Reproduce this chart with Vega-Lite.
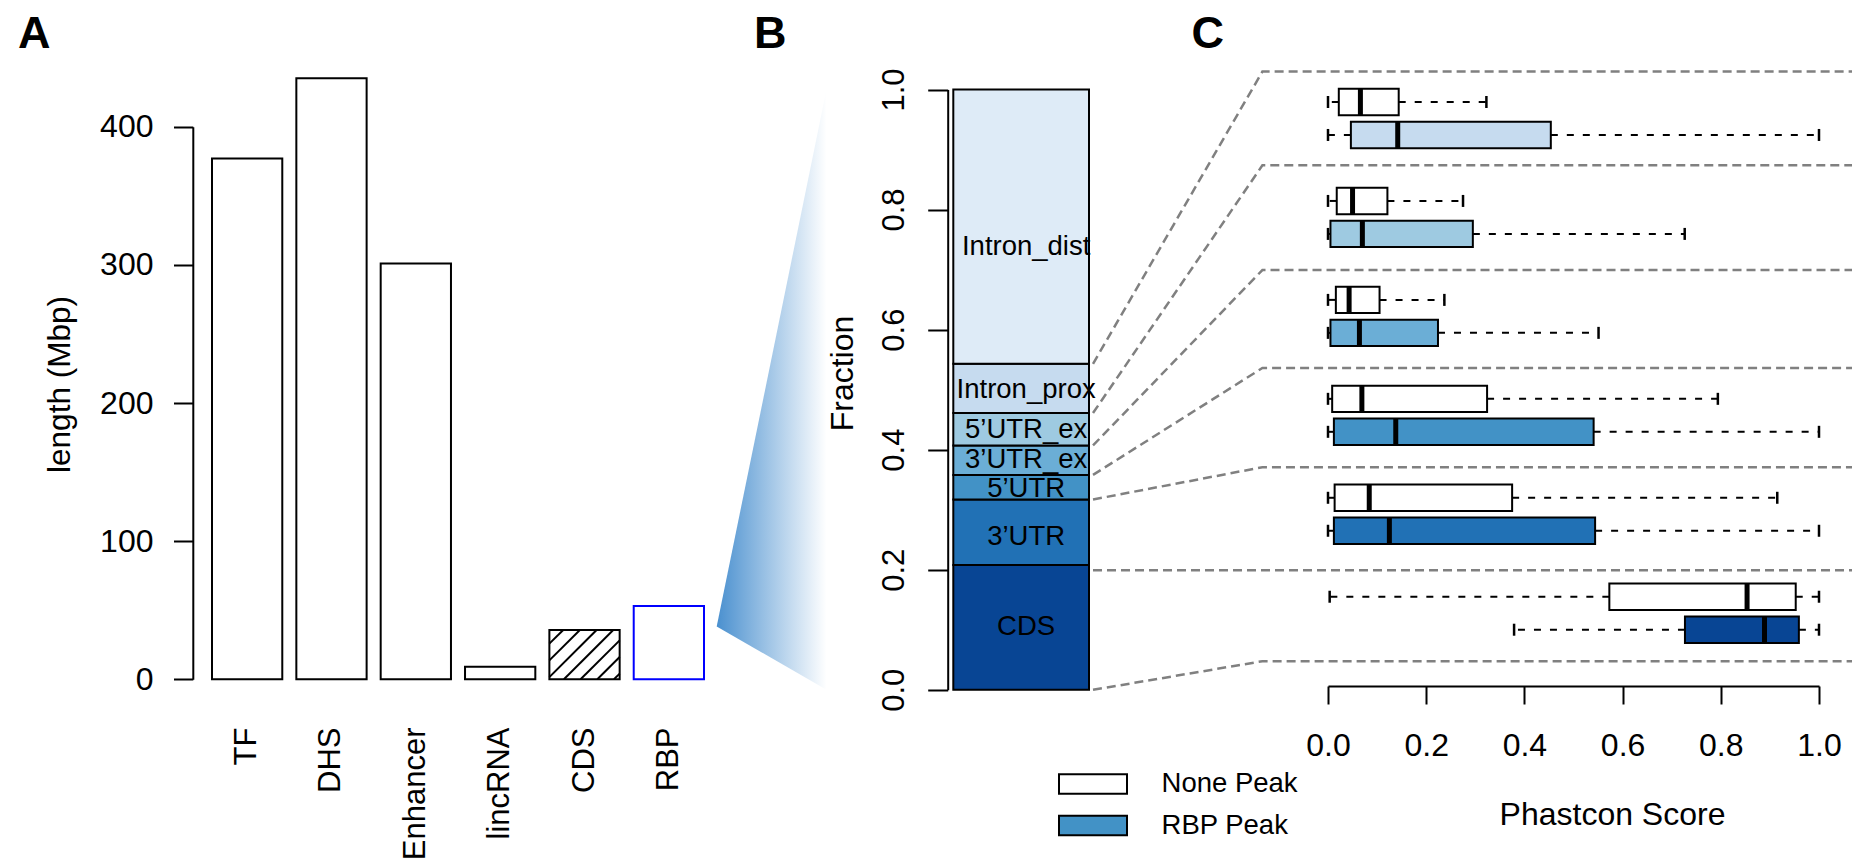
{
  "$schema": "https://vega.github.io/schema/vega-lite/v6.json",
  "width": 1852,
  "height": 864,
  "autosize": {"type": "none"},
  "padding": 0,
  "background": "white",
  "config": {
    "view": {"stroke": null},
    "font": "Liberation Sans",
    "axis": {
      "grid": false,
      "domainColor": "black",
      "tickColor": "black",
      "labelColor": "black",
      "titleColor": "black",
      "domainWidth": 2,
      "tickWidth": 2,
      "labelFont": "Liberation Sans",
      "titleFont": "Liberation Sans",
      "titleFontWeight": "normal",
      "labelFlush": false,
      "labelOverlap": false,
      "labelLimit": 400
    }
  },
  "datasets": {
    "lengths": [
      {"name": "TF", "length": 377},
      {"name": "DHS", "length": 435},
      {"name": "Enhancer", "length": 301},
      {"name": "lincRNA", "length": 9},
      {"name": "CDS", "length": 35.7},
      {"name": "RBP", "length": 53}
    ],
    "hatch": [
      {"u0": 0, "v0": 25.8, "u1": 0.197, "v1": 35.7},
      {"u0": 0, "v0": 13.7, "u1": 0.434, "v1": 35.7},
      {"u0": 0, "v0": 1.6, "u1": 0.672, "v1": 35.7},
      {"u0": 0.207, "v0": 0, "u1": 0.909, "v1": 35.7},
      {"u0": 0.444, "v0": 0, "u1": 1, "v1": 28.2},
      {"u0": 0.682, "v0": 0, "u1": 1, "v1": 16.1},
      {"u0": 0.919, "v0": 0, "u1": 1, "v1": 4.1}
    ],
    "fan": [
      {"t": 0, "lo": 0.1055, "hi": 0.1055},
      {"t": 1, "lo": 0, "hi": 1}
    ],
    "regions": [
      {"set": "RBP", "region": "CDS", "lo": 0, "hi": 0.208, "mid": 0.104},
      {"set": "RBP", "region": "3’UTR", "lo": 0.208, "hi": 0.317, "mid": 0.255},
      {"set": "RBP", "region": "5’UTR", "lo": 0.317, "hi": 0.358, "mid": 0.334},
      {"set": "RBP", "region": "3’UTR_ex", "lo": 0.358, "hi": 0.407, "mid": 0.3835},
      {"set": "RBP", "region": "5’UTR_ex", "lo": 0.407, "hi": 0.461, "mid": 0.433},
      {"set": "RBP", "region": "Intron_prox", "lo": 0.461, "hi": 0.543, "mid": 0.4996},
      {"set": "RBP", "region": "Intron_dist", "lo": 0.543, "hi": 1.0, "mid": 0.738}
    ],
    "links": [
      {"link": 1, "score": -0.4786, "frac": 0.543},
      {"link": 1, "score": -0.1336, "frac": 1.0298},
      {"link": 1, "score": 1.09, "frac": 1.0298},
      {"link": 2, "score": -0.4786, "frac": 0.461},
      {"link": 2, "score": -0.1336, "frac": 0.8737},
      {"link": 2, "score": 1.09, "frac": 0.8737},
      {"link": 3, "score": -0.4786, "frac": 0.407},
      {"link": 3, "score": -0.1336, "frac": 0.6993},
      {"link": 3, "score": 1.09, "frac": 0.6993},
      {"link": 4, "score": -0.4786, "frac": 0.358},
      {"link": 4, "score": -0.1336, "frac": 0.5361},
      {"link": 4, "score": 1.09, "frac": 0.5361},
      {"link": 5, "score": -0.4786, "frac": 0.317},
      {"link": 5, "score": -0.1336, "frac": 0.3708},
      {"link": 5, "score": 1.09, "frac": 0.3708},
      {"link": 6, "score": -0.4786, "frac": 0.1992},
      {"link": 6, "score": -0.1336, "frac": 0.1992},
      {"link": 6, "score": 1.09, "frac": 0.1992},
      {"link": 7, "score": -0.4786, "frac": 0.0},
      {"link": 7, "score": -0.1336, "frac": 0.0476},
      {"link": 7, "score": 1.09, "frac": 0.0476}
    ],
    "phastcons": [
      {"region": "Intron_prox", "peak": "None", "min": 0, "q1": 0.022, "median": 0.066, "q3": 0.144, "max": 0.3226},
      {"region": "Intron_prox", "peak": "RBP", "min": 0, "q1": 0.0466, "median": 0.142, "q3": 0.4538, "max": 1.0},
      {"region": "5’UTR_ex", "peak": "None", "min": 0, "q1": 0.0178, "median": 0.05, "q3": 0.121, "max": 0.275},
      {"region": "5’UTR_ex", "peak": "RBP", "min": 0, "q1": 0.005, "median": 0.07, "q3": 0.295, "max": 0.7265},
      {"region": "3’UTR_ex", "peak": "None", "min": 0, "q1": 0.016, "median": 0.043, "q3": 0.105, "max": 0.237},
      {"region": "3’UTR_ex", "peak": "RBP", "min": 0, "q1": 0.005, "median": 0.064, "q3": 0.224, "max": 0.551},
      {"region": "5’UTR", "peak": "None", "min": 0, "q1": 0.0085, "median": 0.069, "q3": 0.324, "max": 0.794},
      {"region": "5’UTR", "peak": "RBP", "min": 0, "q1": 0.012, "median": 0.138, "q3": 0.541, "max": 1.0},
      {"region": "3’UTR", "peak": "None", "min": 0, "q1": 0.0135, "median": 0.084, "q3": 0.375, "max": 0.915},
      {"region": "3’UTR", "peak": "RBP", "min": 0, "q1": 0.012, "median": 0.125, "q3": 0.544, "max": 1.0},
      {"region": "CDS", "peak": "None", "min": 0.0034, "q1": 0.573, "median": 0.8535, "q3": 0.9526, "max": 1.0},
      {"region": "CDS", "peak": "RBP", "min": 0.379, "q1": 0.727, "median": 0.889, "q3": 0.959, "max": 1.0}
    ],
    "legendKeys": [
      {"peak": "None Peak"},
      {"peak": "RBP Peak"}
    ]
  },
  "resolve": {"scale": {"x": "independent", "y": "independent"}},
  "layer": [
    {
      "data": {"name": "lengths"},
      "mark": {"type": "bar", "fill": "white", "strokeWidth": 2},
      "encoding": {
        "x": {
          "field": "name", "type": "nominal", "sort": null,
          "scale": {"domain": ["TF", "DHS", "Enhancer", "lincRNA", "CDS", "RBP"], "range": [212, 704], "paddingInner": 0.1667, "paddingOuter": 0},
          "axis": {
            "orient": "bottom", "offset": -184.7,
            "domain": false, "ticks": false, "tickSize": 0,
            "labelAngle": -90, "labelAlign": "right", "labelBaseline": "middle", "labelPadding": 47.7, "labelFontSize": 31,
            "title": "A", "titleX": 17.5, "titleY": -632.3, "titleAngle": 0, "titleAlign": "left", "titleBaseline": "alphabetic",
            "titleFontSize": 45, "titleFontWeight": "bold"
          }
        },
        "y": {
          "field": "length", "type": "quantitative",
          "scale": {"domain": [0, 400], "range": [679.3, 126.7], "nice": false, "zero": false},
          "axis": {
            "orient": "left", "offset": -192.8,
            "values": [0, 100, 200, 300, 400], "format": "d",
            "tickSize": 19.3, "labelPadding": 20.5, "labelFontSize": 32, "labelAlign": "right", "labelBaseline": "middle",
            "title": "length (Mbp)", "titleX": -123.8, "titleY": 384, "titleAngle": -90, "titleAlign": "center", "titleBaseline": "alphabetic", "titleFontSize": 31.5
          }
        },
        "stroke": {"condition": {"test": "datum.name === 'RBP'", "value": "#0000ff"}, "value": "black"}
      }
    },
    {
      "data": {"name": "hatch"},
      "mark": {"type": "rule", "stroke": "black", "strokeWidth": 2},
      "encoding": {
        "x": {"field": "u0", "type": "quantitative", "scale": {"domain": [0, 1], "range": [549.37, 619.66], "nice": false, "zero": false}, "axis": null},
        "x2": {"field": "u1"},
        "y": {"field": "v0", "type": "quantitative", "scale": {"domain": [0, 400], "range": [679.3, 126.7], "nice": false, "zero": false}, "axis": null},
        "y2": {"field": "v1"}
      }
    },
    {
      "data": {"name": "fan"},
      "mark": {
        "type": "area", "orient": "vertical",
        "fill": {"gradient": "linear", "x1": 0, "y1": 0, "x2": 1, "y2": 0,
          "stops": [{"offset": 0, "color": "#4a90cf"}, {"offset": 1, "color": "#ffffff"}]}
      },
      "encoding": {
        "x": {"field": "t", "type": "quantitative", "scale": {"domain": [0, 1], "range": [716.7, 826.5], "nice": false, "zero": false}, "axis": null},
        "y": {"field": "lo", "type": "quantitative", "scale": {"domain": [0, 1], "range": [689.8, 89.5], "nice": false, "zero": false}, "axis": null},
        "y2": {"field": "hi"}
      }
    },
    {
      "data": {"name": "regions"},
      "layer": [
        {
          "mark": {"type": "bar", "stroke": "black", "strokeWidth": 2},
          "encoding": {
            "x": {
              "field": "set", "type": "nominal",
              "scale": {"domain": ["RBP"], "range": [953.3, 1089], "paddingInner": 0, "paddingOuter": 0},
              "axis": {
                "orient": "bottom", "offset": 0, "domain": false, "ticks": false, "tickSize": 0, "labels": false,
                "title": "B", "titleX": 753.5, "titleY": -817, "titleAngle": 0, "titleAlign": "left", "titleBaseline": "alphabetic",
                "titleFontSize": 45, "titleFontWeight": "bold"
              }
            },
            "y": {
              "field": "lo", "type": "quantitative",
              "scale": {"domain": [0, 1], "range": [689.8, 89.5], "nice": false, "zero": false},
              "axis": {
                "orient": "left", "offset": -947.7,
                "values": [0, 0.2, 0.4, 0.6, 0.8, 1], "format": ".1f",
                "tickSize": 20, "labelAngle": -90, "labelAlign": "center", "labelBaseline": "alphabetic", "labelPadding": 24.7, "labelFontSize": 31,
                "title": "Fraction", "titleX": -95.2, "titleY": 373, "titleAngle": -90, "titleAlign": "center", "titleBaseline": "alphabetic", "titleFontSize": 32
              }
            },
            "y2": {"field": "hi"},
            "fill": {
              "field": "region", "type": "nominal",
              "scale": {
                "domain": ["Intron_dist", "Intron_prox", "5’UTR_ex", "3’UTR_ex", "5’UTR", "3’UTR", "CDS"],
                "range": ["#deebf7", "#c6dbef", "#9ecae1", "#6baed6", "#4292c6", "#2171b5", "#084594"]
              },
              "legend": null
            }
          }
        },
        {
          "mark": {"type": "text", "fontSize": 27.5, "dx": 5, "baseline": "middle", "align": "center", "color": "black"},
          "encoding": {
            "x": {"field": "set", "type": "nominal"},
            "y": {"field": "mid", "type": "quantitative"},
            "text": {"field": "region"}
          }
        }
      ]
    },
    {
      "data": {"name": "links"},
      "mark": {"type": "line", "stroke": "#808080", "strokeWidth": 2.5, "strokeDash": [9, 5]},
      "encoding": {
        "x": {"field": "score", "type": "quantitative", "scale": {"domain": [0, 1], "range": [1328, 1819], "nice": false, "zero": false}, "axis": null},
        "y": {"field": "frac", "type": "quantitative", "scale": {"domain": [0, 1], "range": [689.8, 89.5], "nice": false, "zero": false}, "axis": null},
        "detail": {"field": "link", "type": "nominal"}
      }
    },
    {
      "data": {"name": "phastcons"},
      "encoding": {
        "y": {
          "field": "region", "type": "nominal",
          "scale": {"domain": ["Intron_prox", "5’UTR_ex", "3’UTR_ex", "5’UTR", "3’UTR", "CDS"], "range": [69, 662.7], "paddingInner": 0, "paddingOuter": 0},
          "axis": {
            "orient": "left", "offset": 0, "domain": false, "ticks": false, "tickSize": 0, "labels": false,
            "title": "C", "titleX": 1191, "titleY": 47, "titleAngle": 0, "titleAlign": "left", "titleBaseline": "alphabetic",
            "titleFontSize": 45, "titleFontWeight": "bold"
          }
        },
        "yOffset": {"field": "peak", "type": "nominal", "scale": {"domain": ["None", "RBP"], "paddingInner": 0.2, "paddingOuter": 0.6}}
      },
      "layer": [
        {
          "mark": {"type": "rule", "strokeDash": [7, 9], "strokeWidth": 2, "color": "black"},
          "encoding": {
            "x": {
              "field": "q1", "type": "quantitative",
              "scale": {"domain": [0, 1], "range": [1328, 1819], "nice": false, "zero": false},
              "axis": {
                "orient": "bottom", "offset": -178,
                "values": [0, 0.2, 0.4, 0.6, 0.8, 1], "format": ".1f",
                "tickSize": 18, "labelPadding": 51, "labelBaseline": "alphabetic", "labelAlign": "center", "labelFontSize": 32,
                "title": "Phastcon Score", "titleX": 1612, "titleY": 138, "titleAngle": 0, "titleAlign": "center", "titleBaseline": "alphabetic", "titleFontSize": 32
              }
            },
            "x2": {"field": "min"}
          }
        },
        {
          "mark": {"type": "rule", "strokeDash": [7, 9], "strokeWidth": 2, "color": "black"},
          "encoding": {
            "x": {"field": "q3", "type": "quantitative"},
            "x2": {"field": "max"}
          }
        },
        {
          "mark": {"type": "tick", "size": 12, "thickness": 2.5, "color": "black", "opacity": 1},
          "encoding": {"x": {"field": "min", "type": "quantitative"}}
        },
        {
          "mark": {"type": "tick", "size": 12, "thickness": 2.5, "color": "black", "opacity": 1},
          "encoding": {"x": {"field": "max", "type": "quantitative"}}
        },
        {
          "mark": {"type": "bar", "stroke": "black", "strokeWidth": 2},
          "encoding": {
            "x": {"field": "q1", "type": "quantitative"},
            "x2": {"field": "q3"},
            "fill": {
              "condition": {"test": "datum.peak === 'None'", "value": "white"},
              "field": "region", "type": "nominal",
              "scale": {
                "domain": ["Intron_dist", "Intron_prox", "5’UTR_ex", "3’UTR_ex", "5’UTR", "3’UTR", "CDS"],
                "range": ["#deebf7", "#c6dbef", "#9ecae1", "#6baed6", "#4292c6", "#2171b5", "#084594"]
              },
              "legend": null
            }
          }
        },
        {
          "mark": {"type": "tick", "size": 26.4, "thickness": 5, "color": "black", "opacity": 1},
          "encoding": {"x": {"field": "median", "type": "quantitative"}}
        }
      ]
    },
    {
      "data": {"name": "legendKeys"},
      "mark": {"type": "point", "filled": true, "opacity": 0, "shape": "M-3.4,-0.985H3.4V0.985H-3.4Z"},
      "encoding": {
        "color": {
          "field": "peak", "type": "nominal",
          "scale": {"domain": ["None Peak", "RBP Peak"], "range": ["#ffffff", "#4292c6"]},
          "legend": {
            "orient": "none", "legendX": 1060, "legendY": 770.25, "title": null, "padding": 0,
            "symbolType": "M-3.4,-0.985H3.4V0.985H-3.4Z", "symbolSize": 400,
            "symbolStrokeColor": "black", "symbolStrokeWidth": 2, "symbolOpacity": 1,
            "symbolOffset": 19.25, "labelOffset": 54.8, "labelFontSize": 27.5, "labelFont": "Liberation Sans",
            "labelColor": "black", "rowPadding": 12.5, "labelLimit": 400
          }
        }
      }
    }
  ]
}
